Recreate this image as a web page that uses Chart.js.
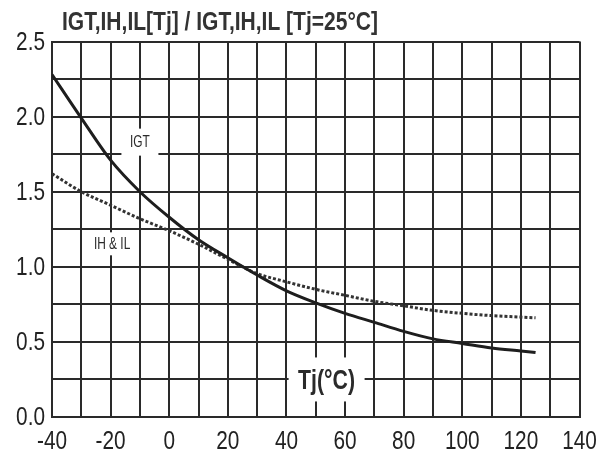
<!DOCTYPE html>
<html>
<head>
<meta charset="utf-8">
<script src="https://cdn.jsdelivr.net/npm/chart.js@4/dist/chart.umd.min.js"></script>
<style>
  html, body { margin: 0; padding: 0; background: #fff; }
  #wrap { width: 607px; height: 452px; position: relative; }
</style>
</head>
<body>
<div id="wrap"><canvas id="tjChart"></canvas></div>
<script>
const temps = [-40, -30, -20, -10, 0, 10, 20, 30, 40, 50, 60, 70, 80, 90, 100, 110, 120, 125];
const igtValues = [2.28, 1.99, 1.71, 1.50, 1.33, 1.18, 1.06, 0.945, 0.84, 0.76, 0.69, 0.63, 0.57, 0.52, 0.49, 0.46, 0.44, 0.43];
const ihilValues = [1.62, 1.50, 1.41, 1.32, 1.24, 1.15, 1.05, 0.955, 0.90, 0.85, 0.81, 0.77, 0.74, 0.71, 0.69, 0.675, 0.665, 0.66];

const xTickLabels = [-40, -20, 0, 20, 40, 60, 80, 100, 120, 140];
const yTickLabels = [0, 0.5, 1.0, 1.5, 2.0, 2.5];

const titleText = 'IGT,IH,IL[Tj] / IGT,IH,IL [Tj=25°C]';
const xAxisText = 'Tj(°C)';
const curveLabels = [
  { text: 'IGT', x: -10, y: 1.83, w: 37, h: 27 },
  { text: 'IH & IL', x: -19.5, y: 1.153, w: 46, h: 23 }
];

const sans = "'Liberation Sans', Arial, sans-serif";
const ink = '#2a2a2a';

const toPoints = (vals) => temps.map((t, i) => ({ x: t, y: vals[i] }));

// there is no narrow font installed, so squeeze Liberation Sans sideways
function narrowText(ctx, text, x, y, sx) {
  ctx.save();
  ctx.translate(x, y);
  ctx.scale(sx, 1);
  ctx.fillText(text, 0, 0);
  ctx.restore();
}

const narrowLabels = {
  id: 'narrowLabels',
  afterDraw(chart) {
    const { ctx, scales: { x, y } } = chart;
    ctx.save();
    ctx.fillStyle = '#222';

    // tick labels
    ctx.font = '26px ' + sans;
    ctx.textAlign = 'right';
    ctx.textBaseline = 'middle';
    yTickLabels.forEach(v => narrowText(ctx, v.toFixed(1), 45, y.getPixelForValue(v) + 1, 0.8));
    ctx.textAlign = 'center';
    ctx.textBaseline = 'alphabetic';
    xTickLabels.forEach(v => narrowText(ctx, String(v), x.getPixelForValue(v), 449, 0.8));

    // curve names in white boxes
    ctx.textBaseline = 'middle';
    curveLabels.forEach(l => {
      const px = x.getPixelForValue(l.x);
      const py = y.getPixelForValue(l.y);
      ctx.fillStyle = '#fff';
      ctx.fillRect(px - l.w / 2, py - l.h / 2, l.w, l.h);
      ctx.fillStyle = ink;
      ctx.font = '17px ' + sans;
      narrowText(ctx, l.text, px, py, 0.7);
    });

    // axis name inside the plot
    const ax = x.getPixelForValue(53.7);
    const ay = y.getPixelForValue(0.25);
    ctx.fillStyle = '#fff';
    ctx.fillRect(ax - 38, ay - 22, 76, 44);
    ctx.fillStyle = ink;
    ctx.font = 'bold 28px ' + sans;
    ctx.textBaseline = 'alphabetic';
    narrowText(ctx, xAxisText, ax, ay + 10, 0.76);

    // title, fitted to the same width as the original
    ctx.font = 'bold 25px ' + sans;
    ctx.textAlign = 'left';
    ctx.fillStyle = '#333';
    const tw = ctx.measureText(titleText).width;
    narrowText(ctx, titleText, 62, 30, 316 / tw);
    ctx.restore();
  }
};

new Chart(document.getElementById('tjChart'), {
  type: 'line',
  data: {
    datasets: [
      {
        label: 'IGT',
        data: toPoints(igtValues),
        borderColor: '#1e1e1e',
        borderWidth: 3,
        pointRadius: 0,
        cubicInterpolationMode: 'monotone',
        fill: false
      },
      {
        label: 'IH & IL',
        data: toPoints(ihilValues),
        borderColor: '#333',
        borderWidth: 3,
        borderDash: [3, 2],
        pointRadius: 0,
        cubicInterpolationMode: 'monotone',
        fill: false
      }
    ]
  },
  options: {
    responsive: true,
    maintainAspectRatio: false,
    animation: false,
    layout: { padding: { top: 41.5, right: 27.5, left: 0, bottom: 0 } },
    plugins: {
      legend: { display: false },
      tooltip: { enabled: false }
    },
    scales: {
      x: {
        type: 'linear',
        min: -40,
        max: 140,
        afterFit(scale) { scale.height = 35; },
        grid: { color: ink, lineWidth: 2, drawTicks: false },
        border: { color: ink, width: 2 },
        ticks: { stepSize: 10, autoSkip: false, display: false }
      },
      y: {
        min: 0,
        max: 2.5,
        afterFit(scale) { scale.width = 52; },
        grid: { color: ink, lineWidth: 2, drawTicks: false },
        border: { color: ink, width: 2 },
        ticks: { stepSize: 0.25, autoSkip: false, display: false }
      }
    }
  },
  plugins: [narrowLabels]
});
</script>
</body>
</html>
